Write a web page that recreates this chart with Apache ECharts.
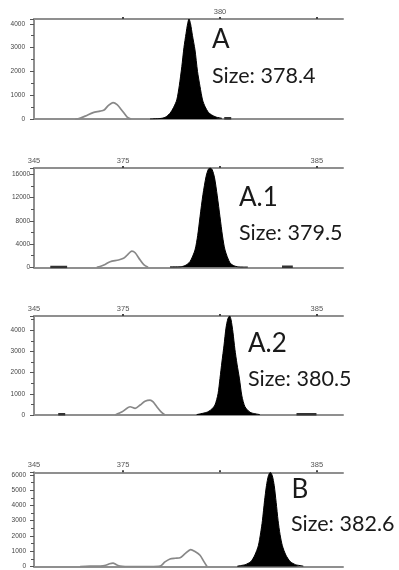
<!DOCTYPE html>
<html>
<head>
<meta charset="utf-8">
<script src="https://cdn.jsdelivr.net/npm/echarts@6/dist/echarts.min.js"></script>
<style>
  html, body { margin: 0; padding: 0; background: #fff; }
  #chart { width: 399px; height: 570px; }
</style>
</head>
<body>
<div id="chart"></div>
<script>
// Fragment-size traces (base pairs vs. fluorescence), one panel per sample.
const sampleNames = ['A', 'A.1', 'A.2', 'B'];
const sampleSizes = [378.4, 379.5, 380.5, 382.6];

// Size axis
const sizeMin = 370.4;
const sizeMax = 386.35;
const sizeTickValues = [375, 380, 385];
const sizeLabelValues = [[380], [370.4, 375, 385], [370.4, 375, 385], [370.4, 375, 385]];
const sizeLabelTexts = [['380'], ['345', '375', '385'], ['345', '375', '385'], ['345', '375', '385']];

// Signal axes
const signalMax = [4200, 17100, 4670, 6170];
const signalInterval = [1000, 4000, 1000, 1000];

// Filled (called) peaks
const peakA = [[376.39,0],[376.9,20],[377.17,70],[377.42,240],[377.6,480],[377.77,800],[377.9,1400],[378.03,2200],[378.14,3000],[378.25,3600],[378.33,4000],[378.4,4200],[378.48,4000],[378.58,3500],[378.71,2900],[378.84,2000],[378.97,1360],[379.1,800],[379.23,520],[379.4,280],[379.57,170],[379.8,80],[380.1,30]];
const peakA1 = [[377.42,60],[377.94,80],[378.2,300],[378.45,960],[378.71,2970],[378.85,5500],[378.97,8690],[379.12,12500],[379.28,15600],[379.4,16900],[379.5,17100],[379.6,16800],[379.72,15400],[379.86,12300],[380.0,8690],[380.13,5400],[380.26,2970],[380.52,740],[380.77,200],[381.03,60],[381.44,40]];
const peakA2 = [[378.8,20],[379.31,127],[379.54,250],[379.74,470],[379.9,1000],[380.0,1725],[380.1,2500],[380.21,3300],[380.31,4100],[380.41,4550],[380.5,4670],[380.57,4500],[380.67,3900],[380.77,3100],[380.88,2400],[381.0,1740],[381.13,900],[381.29,390],[381.55,130],[381.8,60],[382.06,20]];
const peakB = [[380.9,30],[381.3,120],[381.6,330],[381.8,750],[381.98,1360],[382.1,2200],[382.19,3000],[382.3,4300],[382.4,5300],[382.5,5950],[382.6,6170],[382.7,5950],[382.8,5300],[382.9,4200],[383.0,3000],[383.1,2100],[383.22,1360],[383.4,750],[383.62,330],[383.9,120],[384.3,30]];

// Outline (uncalled) traces
const traceA = [[372.53,0],[372.68,10],[373.04,120],[373.45,270],[373.81,330],[374.02,380],[374.23,560],[374.48,690],[374.69,600],[374.95,350],[375.21,80],[375.41,0]];
const traceA1 = [[373.64,0],[373.81,150],[374.07,500],[374.33,960],[374.76,1250],[375.02,1540],[375.21,2100],[375.45,2800],[375.62,2500],[375.88,1250],[376.08,400],[376.29,0]];
const traceA2 = [[374.59,0],[374.95,150],[375.36,390],[375.62,315],[375.88,470],[376.13,650],[376.39,705],[376.55,620],[376.74,390],[376.96,150],[377.16,0]];
const traceB = [[372.78,0],[373.3,20],[373.81,30],[374.1,80],[374.3,180],[374.48,220],[374.65,120],[374.85,30],[375.1,0],[376.39,0],[376.91,30],[377.16,300],[377.42,490],[377.68,540],[377.94,570],[378.2,840],[378.49,1110],[378.71,980],[378.97,740],[379.18,300],[379.33,0]];

// Low baseline blips
const blipA = [[380.22,30],[380.58,30]];
const blipA1 = [[371.24,60],[372.11,60],null,[383.2,80],[383.76,80]];
const blipA2 = [[371.65,40],[372.01,40],null,[383.95,40],[384.98,40]];
const blipB = [];

const peaks = [peakA, peakA1, peakA2, peakB];
const traces = [traceA, traceA1, traceA2, traceB];
const blips = [blipA, blipA1, blipA2, blipB];

// Panel layout (pixels)
const panelTop = [19, 168, 316, 472.3];
const panelHeight = [100, 99.3, 99, 98.7];
const labelMargin = [9, 4, 9, 8];
const nameAt = [[212, 44], [239, 201.5], [248, 347.5], [291.5, 493.3]];
const sizeAt = [[212, 78.5], [239, 235], [248, 381], [291, 526.5]];

const AXIS_GRAY = '#8f8f8f';
const TEXT_GRAY = '#444';

const grids = [], xAxes = [], yAxes = [], series = [], graphics = [];

for (let i = 0; i < 4; i++) {
  grids.push({ left: 34, right: 56, top: panelTop[i], height: panelHeight[i] });

  const labelVals = sizeLabelValues[i];
  const labelTxt = sizeLabelTexts[i];
  xAxes.push({
    gridIndex: i, type: 'value', position: 'top', min: sizeMin, max: sizeMax,
    axisLine: { show: true, onZero: false, lineStyle: { color: AXIS_GRAY, width: 2 } },
    axisTick: { show: true, customValues: sizeTickValues, length: 2, inside: false, lineStyle: { color: '#444', width: 2 } },
    axisLabel: {
      show: true, customValues: labelVals, fontSize: 7.5, color: '#555', margin: 3,
      fontFamily: 'Liberation Sans',
      formatter: function (v) {
        for (let k = 0; k < labelVals.length; k++) {
          if (Math.abs(labelVals[k] - v) < 1e-6) return labelTxt[k];
        }
        return '';
      }
    },
    splitLine: { show: false }
  });
  xAxes.push({
    gridIndex: i, type: 'value', position: 'bottom', min: sizeMin, max: sizeMax,
    axisLine: { show: true, onZero: false, lineStyle: { color: AXIS_GRAY, width: 2 } },
    axisTick: { show: false }, axisLabel: { show: false }, splitLine: { show: false }
  });

  yAxes.push({
    gridIndex: i, type: 'value', min: 0, max: signalMax[i], interval: signalInterval[i],
    axisLine: { show: true, onZero: false, lineStyle: { color: AXIS_GRAY, width: 2 } },
    axisTick: { show: true, length: 4, lineStyle: { color: '#555', width: 1 } },
    minorTick: { show: true, splitNumber: 2, length: 3, lineStyle: { color: '#555', width: 1 } },
    axisLabel: {
      fontSize: 6.5, color: TEXT_GRAY, margin: labelMargin[i], showMaxLabel: false,
      fontFamily: 'Liberation Sans',
      formatter: function (v) { return String(Math.round(v)); }
    },
    splitLine: { show: false }
  });

  series.push({
    type: 'line', xAxisIndex: 2 * i, yAxisIndex: i, data: traces[i],
    symbol: 'none', smooth: 0.25, silent: true,
    lineStyle: { color: '#888', width: 1.7 }
  });
  series.push({
    type: 'line', xAxisIndex: 2 * i, yAxisIndex: i, data: peaks[i],
    symbol: 'none', smooth: 0.25, silent: true,
    lineStyle: { color: '#000', width: 1 },
    areaStyle: { color: '#000', opacity: 1 }
  });
  series.push({
    type: 'line', xAxisIndex: 2 * i, yAxisIndex: i, data: blips[i],
    symbol: 'none', connectNulls: false, silent: true,
    lineStyle: { color: '#333', width: 2.5 }
  });

  graphics.push({
    type: 'text', left: nameAt[i][0], top: nameAt[i][1] - 17,
    style: { text: sampleNames[i], font: '26px Lato', fill: '#1a1a1a' }
  });
  graphics.push({
    type: 'text', left: sizeAt[i][0], top: sizeAt[i][1] - 13,
    style: { text: 'Size: ' + sampleSizes[i].toFixed(1), font: '21.5px Lato', fill: '#1a1a1a' }
  });
}

const chart = echarts.init(document.getElementById('chart'), null, { renderer: 'canvas' });
chart.setOption({
  animation: false,
  backgroundColor: '#fff',
  grid: grids,
  xAxis: xAxes,
  yAxis: yAxes,
  series: series,
  graphic: graphics
});
</script>
</body>
</html>
